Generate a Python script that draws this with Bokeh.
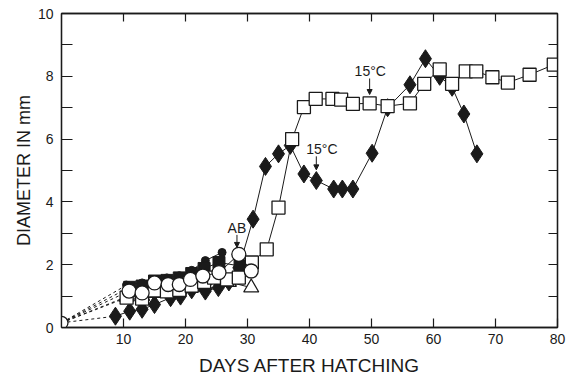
from bokeh.plotting import figure
from bokeh.models import LinearAxis, FixedTicker, Arrow, NormalHead, Label, Range1d
from bokeh.embed import file_html
from bokeh.resources import INLINE

# ---- data (days after hatching, diameter in mm) ----
origin_day = [0]
origin_diam = [0.15]

circle_days = [10.9, 13.0, 15.0, 17.2, 19.0, 20.8, 22.8, 25.4, 28.6, 30.6]
circle_diam = [1.16, 1.10, 1.42, 1.37, 1.37, 1.53, 1.64, 1.75, 2.33, 1.80]

square_days = [10.5, 13.0, 15.0, 17.0, 19.0, 21.0, 23.0, 24.6, 26.7, 28.6, 30.7,
               33.1, 35.0, 37.2, 39.1, 41.0, 43.7, 45.1, 47.0, 49.7, 52.6, 56.2,
               58.5, 61.0, 63.0, 65.2, 66.9, 69.5, 72.0, 75.5, 79.4]
square_diam = [0.95, 0.92, 1.18, 1.15, 1.20, 1.33, 1.45, 1.59, 1.53, 1.59, 2.07,
               2.49, 3.82, 6.00, 7.02, 7.28, 7.28, 7.26, 7.12, 7.14, 7.05, 7.14,
               7.76, 8.22, 7.76, 8.16, 8.16, 7.97, 7.80, 8.05, 8.37]

diamond_days = [8.7, 11.0, 13.0, 15.0, 17.6, 19.2, 21.0, 23.2, 25.3, 27.0, 28.6,
                30.9, 32.9, 35.0, 36.9, 39.1, 41.1, 43.9, 45.3, 47.0, 50.1, 52.6,
                56.2, 58.7, 61.0, 63.0, 64.9, 67.0]
diamond_diam = [0.36, 0.52, 0.58, 0.73, 0.95, 1.00, 1.20, 1.16, 1.27, 1.45, 1.90,
                3.45, 5.13, 5.53, 5.80, 4.89, 4.68, 4.41, 4.41, 4.41, 5.55, 7.00,
                7.73, 8.56, 8.00, 7.65, 6.80, 5.53]

fsquare_days = [11.0, 13.0, 15.0, 17.0, 19.0, 21.0, 23.0, 25.4, 28.8]
fsquare_diam = [1.28, 1.32, 1.48, 1.50, 1.58, 1.72, 1.88, 2.07, 1.96]

dot_days = [10.5, 13.0, 15.0, 17.0, 19.0, 21.0, 23.2, 25.9]
dot_diam = [1.35, 1.42, 1.52, 1.58, 1.65, 1.82, 2.13, 2.39]

triangle_days = [10.5, 13.0, 15.0, 17.0, 19.0, 21.0, 23.0, 25.0, 27.0, 30.6]
triangle_diam = [0.98, 1.00, 1.10, 1.15, 1.20, 1.30, 1.35, 1.40, 1.45, 1.27]

x_ticks = [10, 20, 30, 40, 50, 60, 70, 80]
x_frame_ticks = [10, 20, 30, 40, 50, 60, 70]
y_ticks = [0, 2, 4, 6, 8, 10]
y_minor_ticks = [1, 3, 5, 7, 9]
y_frame_ticks = [1, 2, 3, 4, 5, 6, 7, 8, 9]

FONT = "Liberation Sans"
INK = "#1a1a1a"

p = figure(width=566, height=379, output_backend="svg", toolbar_location=None,
           x_range=Range1d(0, 80), y_range=Range1d(0, 10),
           min_border_left=61, min_border_right=9, min_border_top=13,
           min_border_bottom=52, background_fill_color="white",
           border_fill_color="white")
p.grid.visible = False
p.outline_line_color = INK
p.outline_line_width = 1.3

def style_axis(ax, ticks, minor, tick_len):
    ax.ticker = FixedTicker(ticks=ticks, minor_ticks=minor)
    ax.major_tick_in = tick_len
    ax.major_tick_out = 0
    ax.minor_tick_in = tick_len
    ax.minor_tick_out = 0
    ax.axis_line_color = INK
    ax.axis_line_width = 1.3
    ax.major_tick_line_color = INK
    ax.major_tick_line_width = 1.2
    ax.minor_tick_line_color = INK
    ax.minor_tick_line_width = 1.2
    ax.major_label_text_font = FONT
    ax.major_label_text_font_size = "14px"
    ax.major_label_text_color = INK

style_axis(p.xaxis[0], x_ticks, [], 9)
p.xaxis[0].major_label_standoff = 6
p.xaxis[0].axis_label = "DAYS AFTER HATCHING"
p.xaxis[0].axis_label_text_font = FONT
p.xaxis[0].axis_label_text_font_size = "19px"
p.xaxis[0].axis_label_text_font_style = "normal"
p.xaxis[0].axis_label_text_color = INK
p.xaxis[0].axis_label_standoff = 8

style_axis(p.yaxis[0], y_ticks, y_minor_ticks, 11)
p.yaxis[0].major_label_standoff = 8
p.yaxis[0].major_label_orientation = "horizontal"
p.yaxis[0].axis_label = "DIAMETER IN mm"
p.yaxis[0].axis_label_text_font = FONT
p.yaxis[0].axis_label_text_font_size = "18px"
p.yaxis[0].axis_label_text_font_style = "normal"
p.yaxis[0].axis_label_text_color = INK
p.yaxis[0].axis_label_standoff = 1

# frame axes: ticks only (as minor ticks, so no labels are drawn)
top = LinearAxis()
style_axis(top, [], x_frame_ticks, 8)
p.add_layout(top, "above")
right = LinearAxis()
style_axis(right, [], y_frame_ticks, 9)
p.add_layout(right, "right")

# dashed lines from origin to first point of each early series
starts_x = [circle_days[0], square_days[0], diamond_days[0], fsquare_days[0],
            dot_days[0], triangle_days[0]]
starts_y = [circle_diam[0], square_diam[0], diamond_diam[0], fsquare_diam[0],
            dot_diam[0], triangle_diam[0]]
p.segment(x0=[origin_day[0]] * len(starts_x), y0=[origin_diam[0]] * len(starts_x),
          x1=starts_x, y1=starts_y, line_color=INK, line_width=1,
          line_dash="3 3")

LW = 1.0
# triangles
p.line(triangle_days, triangle_diam, line_color=INK, line_width=LW)
p.scatter(triangle_days, triangle_diam, marker="triangle", size=15,
          fill_color="white", line_color=INK, line_width=1.3)
# small dots
p.line(dot_days, dot_diam, line_color=INK, line_width=LW)
p.scatter(dot_days, dot_diam, marker="circle", size=8, fill_color=INK,
          line_color=INK)
# filled squares
p.line(fsquare_days, fsquare_diam, line_color=INK, line_width=LW)
p.scatter(fsquare_days, fsquare_diam, marker="square", size=12, fill_color=INK,
          line_color=INK)
# diamonds
p.line(diamond_days, diamond_diam, line_color=INK, line_width=LW)
p.scatter(diamond_days, diamond_diam, marker="diamond", size=18, fill_color=INK,
          line_color=INK)
# open squares
p.line(square_days, square_diam, line_color=INK, line_width=LW)
p.scatter(square_days, square_diam, marker="square", size=13, fill_color="white",
          line_color=INK, line_width=1.3)
# open circles
p.line(circle_days, circle_diam, line_color=INK, line_width=LW)
p.scatter(circle_days, circle_diam, marker="circle", size=14, fill_color="white",
          line_color=INK, line_width=1.3)
p.scatter(origin_day, origin_diam, marker="circle", size=13, fill_color="white",
          line_color=INK, line_width=1.3)

# annotations
def add_note(text, x, y, ax, ay0, ay1):
    p.add_layout(Label(x=x, y=y, text=text, text_font=FONT,
                       text_font_size="14px", text_color=INK,
                       text_align="center", text_baseline="middle"))
    p.add_layout(Arrow(x_start=ax, y_start=ay0, x_end=ax, y_end=ay1,
                       line_color=INK, line_width=1,
                       end=NormalHead(size=5, fill_color=INK, line_color=INK)))

add_note("AB", 28.3, 3.18, 28.3, 2.95, 2.55)
add_note("15°C", 42.0, 5.70, 41.1, 5.45, 5.02)
add_note("15°C", 49.8, 8.18, 49.7, 7.93, 7.42)

open("out.html", "w").write(file_html(p, INLINE))
